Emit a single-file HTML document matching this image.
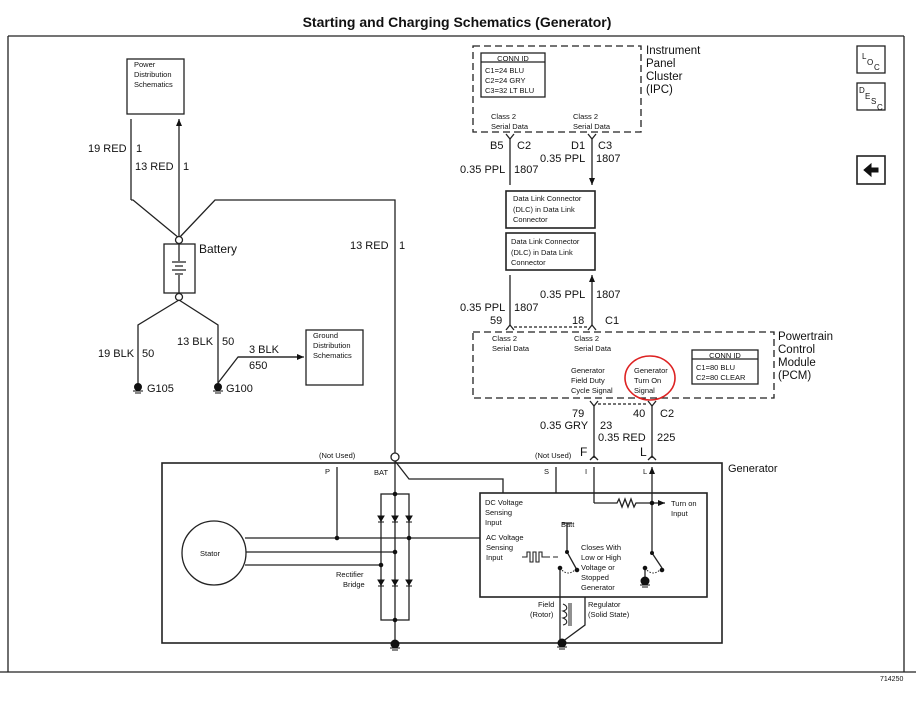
<!DOCTYPE html>
<html><head><meta charset="utf-8"><style>
html,body{margin:0;padding:0;background:#fff;}
svg{display:block;font-family:"Liberation Sans",Arial,sans-serif;}
</style></head><body>
<svg width="916" height="712" viewBox="0 0 916 712" xmlns="http://www.w3.org/2000/svg">
<defs>
<marker id="ah" markerWidth="8" markerHeight="8" refX="7" refY="4" orient="auto" markerUnits="userSpaceOnUse"><path d="M0,1 L7,4 L0,7 Z" fill="#111"/></marker>
</defs>
<text x="457" y="27" font-size="14" font-weight="bold" text-anchor="middle" fill="#111">Starting and Charging Schematics (Generator)</text>
<g fill="none" stroke="#222" stroke-width="1.3">
<!-- frame -->
<path d="M8,36 H904 M8,36 V672 M904,36 V672 M0,672 H916"/>
<!-- power dist -->
<rect x="127" y="59" width="57" height="55"/>
<path d="M131,200 V119 M179,240 V119" marker-end="url(#ah)"/>
<path d="M131,200 H133 L179,238 M179,238 L215,200 H395 V453"/>
<circle cx="179" cy="240" r="3.5" fill="#fff"/>
<rect x="164" y="244" width="31" height="49"/>
<path d="M179,244 V261 M172,262 H186 M175,266 H183 M172,270 H186 M175,274 H183 M179,275 V293"/>
<circle cx="179" cy="297" r="3.5" fill="#fff"/>
<path d="M179,300 L138,325 V385 M179,300 L218,325 V385 M218,383 L238,357 H300"/>
<path d="M238,357 H304" marker-end="url(#ah)"/>
<rect x="306" y="330" width="57" height="55"/>
<!-- IPC -->
<rect x="473" y="46" width="168" height="86" stroke-dasharray="7,4"/>
<rect x="481" y="53" width="64" height="44"/><path d="M481,62 H545"/>
<path d="M510,138 V185 M592,138 V185" marker-end="url(#ah)"/>
<path d="M506,134 L510,139 L514,134 M588,134 L592,139 L596,134"/>
<rect x="506" y="191" width="89" height="37" stroke-width="1.6"/>
<rect x="506" y="233" width="89" height="37" stroke-width="1.6"/>
<path d="M510,325 V275 M592,325 V275" marker-end="url(#ah)"/>
<path d="M506,330 L510,325 L514,330 M588,330 L592,325 L596,330"/>
<path d="M514,327 H588" stroke-dasharray="3,2"/>
<!-- PCM -->
<rect x="473" y="332" width="301" height="66" stroke-dasharray="7,4"/>
<rect x="692" y="350" width="66" height="34"/><path d="M692,359 H758"/>
<path d="M590,401 L594,406 L598,401 M648,401 L652,406 L656,401"/>
<path d="M598,404 H648" stroke-dasharray="3,2"/>
<path d="M594,406 V458 M652,406 V458"/>
<path d="M590,460 L594,456 L598,460 M648,460 L652,456 L656,460"/>
<!-- generator -->
<rect x="162" y="463" width="560" height="180" stroke-width="1.6"/>
<circle cx="395" cy="457" r="4" fill="#fff"/>
<path d="M395,461 L409,479 H503 V493"/>
<path d="M395,461 V643"/>
<rect x="381" y="494" width="28" height="126"/>
<circle cx="214" cy="553" r="32"/>
<path d="M245,538 H480 M246,552 H395 M245,565 H381"/>
<path d="M337,538 V467 M556,493 V467 M594,503 V467 M652,553 V467" marker-end="url(#ah)"/>
<rect x="480" y="493" width="227" height="104" stroke-width="1.6"/>
<path d="M594,503 H617 l2,-4 l3,8 l3,-8 l3,8 l3,-8 l3,8 l2,-4 H652"/>
<path d="M652,503 H665" marker-end="url(#ah)"/>
<path d="M652,553 L662,568"/>
<path d="M645,568 V580"/>
<path d="M645,568 q8,10 17,0" stroke-dasharray="1.5,1.5" stroke-width="1"/>
<path d="M562,523 H572 M567,523 V552 L577,570"/>
<path d="M560,568 q8,10 17,0" stroke-dasharray="1.5,1.5" stroke-width="1"/>
<path d="M522,557 H527 V552 H530 V562 H533 V552 H536 V562 H539 V552 H542 V557 H550 M553,557 H558" stroke-width="1.1"/>
<path d="M560,568 V643 M585,597 V625 L562,642"/>
<path d="M563,604 c5,2 5,6 0,7 c5,2 5,6 0,7 c5,2 5,6 0,7" stroke-width="1.1"/>
<path d="M569,603 V626 M571,603 V626" stroke-width="1"/>
<!-- icons -->
<rect x="857" y="46" width="28" height="27"/>
<rect x="857" y="83" width="28" height="27"/>
<rect x="857" y="156" width="28" height="28" stroke-width="1.6"/>
</g>
<!-- diodes -->
<g fill="#111" stroke="#111" stroke-width="1">
<path d="M378,516 h6 l-3,5 z M392,516 h6 l-3,5 z M406,516 h6 l-3,5 z"/>
<path d="M378,522 h6 M392,522 h6 M406,522 h6"/>
<path d="M378,580 h6 l-3,5 z M392,580 h6 l-3,5 z M406,580 h6 l-3,5 z"/>
<path d="M378,586 h6 M392,586 h6 M406,586 h6"/>
<circle cx="395" cy="494" r="1.8"/><circle cx="395" cy="620" r="1.8"/>
<circle cx="337" cy="538" r="1.8"/><circle cx="409" cy="538" r="1.8"/><circle cx="395" cy="552" r="1.8"/><circle cx="381" cy="565" r="1.8"/>
<circle cx="652" cy="503" r="1.8"/>
<circle cx="560" cy="568" r="1.8"/><circle cx="577" cy="570" r="1.8"/><circle cx="567" cy="552" r="1.5"/>
<circle cx="645" cy="568" r="1.8"/><circle cx="662" cy="570" r="1.8"/><circle cx="652" cy="553" r="1.5"/>
<circle cx="138" cy="387" r="3.5"/><circle cx="218" cy="387" r="3.5"/>
<circle cx="395" cy="644" r="4"/><circle cx="562" cy="643" r="4"/><circle cx="645" cy="581" r="4"/>
<path d="M133,391 h10 M135,393 h6 M213,391 h10 M215,393 h6 M390,648 h10 M392,650 h6 M557,647 h10 M559,649 h6 M640,585 h10 M642,587 h6" fill="none"/>
<path d="M864,170 l7,-6 v4 h7 v4 h-7 v4 z"/>
</g>
<path d="M381,465 L395,461" stroke="none"/>
<!-- red circle -->
<ellipse cx="650" cy="378" rx="25" ry="22" fill="none" stroke="#d22" stroke-width="1.6"/>
<!-- text -->
<g fill="#111" font-size="11">
<text x="88" y="152">19 RED</text><text x="136" y="152">1</text>
<text x="135" y="170">13 RED</text><text x="183" y="170">1</text>
<text x="199" y="253" font-size="12">Battery</text>
<text x="350" y="249">13 RED</text><text x="399" y="249">1</text>
<text x="98" y="357">19 BLK</text><text x="142" y="357">50</text>
<text x="177" y="345">13 BLK</text><text x="222" y="345">50</text>
<text x="249" y="353">3 BLK</text><text x="249" y="369">650</text>
<text x="147" y="392">G105</text><text x="226" y="392">G100</text>
<text x="646" y="54" font-size="11.5">Instrument</text><text x="646" y="67" font-size="11.5">Panel</text><text x="646" y="80" font-size="11.5">Cluster</text><text x="646" y="93" font-size="11.5">(IPC)</text>
<text x="490" y="149">B5</text><text x="517" y="149">C2</text>
<text x="571" y="149">D1</text><text x="598" y="149">C3</text>
<text x="460" y="173">0.35 PPL</text><text x="514" y="173">1807</text>
<text x="540" y="162">0.35 PPL</text><text x="596" y="162">1807</text>
<text x="540" y="298">0.35 PPL</text><text x="596" y="298">1807</text>
<text x="460" y="311">0.35 PPL</text><text x="514" y="311">1807</text>
<text x="490" y="324">59</text><text x="572" y="324">18</text><text x="605" y="324">C1</text>
<text x="778" y="340" font-size="11.5">Powertrain</text><text x="778" y="353" font-size="11.5">Control</text><text x="778" y="366" font-size="11.5">Module</text><text x="778" y="379" font-size="11.5">(PCM)</text>
<text x="572" y="417">79</text><text x="633" y="417">40</text><text x="660" y="417">C2</text>
<text x="540" y="429">0.35 GRY</text><text x="600" y="429">23</text>
<text x="598" y="441">0.35 RED</text><text x="657" y="441">225</text>
<text x="580" y="456" font-size="12">F</text><text x="640" y="456" font-size="12">L</text>
<text x="728" y="472">Generator</text>
</g>
<g fill="#111" font-size="7.5">
<text x="134" y="67">Power</text><text x="134" y="77">Distribution</text><text x="134" y="87">Schematics</text>
<text x="313" y="338">Ground</text><text x="313" y="348">Distribution</text><text x="313" y="358">Schematics</text>
<text x="513" y="61" font-size="7.5" text-anchor="middle">CONN ID</text>
<text x="485" y="73">C1=24 BLU</text><text x="485" y="83">C2=24 GRY</text><text x="485" y="93">C3=32 LT BLU</text>
<text x="491" y="119">Class 2</text><text x="491" y="129">Serial Data</text>
<text x="573" y="119">Class 2</text><text x="573" y="129">Serial Data</text>
<text x="513" y="201">Data Link Connector</text><text x="513" y="212">(DLC) in Data Link</text><text x="513" y="222">Connector</text>
<text x="511" y="244">Data Link Connector</text><text x="511" y="255">(DLC) in Data Link</text><text x="511" y="265">Connector</text>
<text x="492" y="341">Class 2</text><text x="492" y="351">Serial Data</text>
<text x="574" y="341">Class 2</text><text x="574" y="351">Serial Data</text>
<text x="571" y="373">Generator</text><text x="571" y="383">Field Duty</text><text x="571" y="393">Cycle Signal</text>
<text x="634" y="373">Generator</text><text x="634" y="383">Turn On</text><text x="634" y="393">Signal</text>
<text x="725" y="358" text-anchor="middle">CONN ID</text>
<text x="696" y="370">C1=80 BLU</text><text x="696" y="380">C2=80 CLEAR</text>
<text x="319" y="458">(Not Used)</text><text x="535" y="458">(Not Used)</text>
<text x="325" y="474">P</text><text x="374" y="475">BAT</text><text x="544" y="474">S</text><text x="585" y="474">I</text><text x="643" y="474">L</text>
<text x="200" y="556">Stator</text>
<text x="336" y="577">Rectifier</text><text x="343" y="587">Bridge</text>
<text x="485" y="505">DC Voltage</text><text x="485" y="515">Sensing</text><text x="485" y="525">Input</text>
<text x="486" y="540">AC Voltage</text><text x="486" y="550">Sensing</text><text x="486" y="560">Input</text>
<text x="561" y="527">Batt</text>
<text x="581" y="550">Closes With</text><text x="581" y="560">Low or High</text><text x="581" y="570">Voltage or</text><text x="581" y="580">Stopped</text><text x="581" y="590">Generator</text>
<text x="671" y="506">Turn on</text><text x="671" y="516">Input</text>
<text x="538" y="607">Field</text><text x="530" y="617">(Rotor)</text>
<text x="588" y="607">Regulator</text><text x="588" y="617">(Solid State)</text>
<text x="880" y="681" font-size="7">714250</text>
<text x="862" y="59" font-size="8">L</text><text x="867" y="65" font-size="8">O</text><text x="874" y="70" font-size="8">C</text>
<text x="859" y="93" font-size="8">D</text><text x="865" y="99" font-size="8">E</text><text x="871" y="104" font-size="8">S</text><text x="877" y="110" font-size="8">C</text>
</g>
</svg>
</body></html>
